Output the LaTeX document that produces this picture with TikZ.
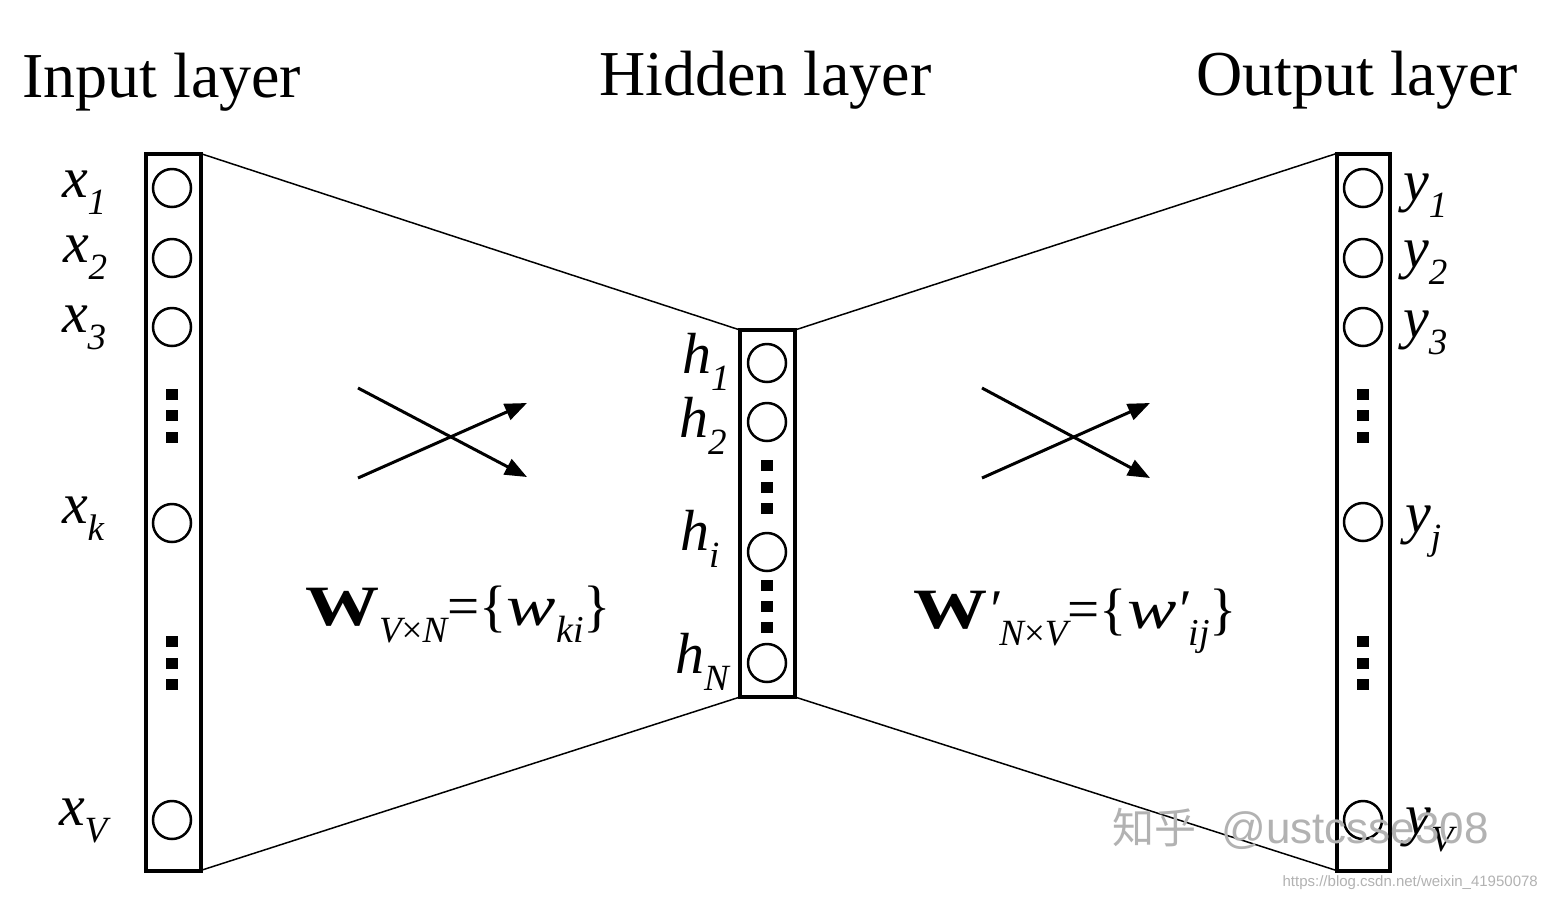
\documentclass[tikz,border=0pt]{standalone}
\usepackage{fontspec}
\setmainfont{Liberation Serif}
\newfontfamily\cjkfont{Noto Sans CJK SC}
\newfontfamily\wmfont{Liberation Sans}
\usetikzlibrary{arrows.meta}

\newcommand{\fs}[1]{\fontsize{#1}{#1}\selectfont}
% italic unit name with a lowered italic index
\newcommand{\unitlab}[2]{{\fs{58}\itshape #1\raisebox{-17pt}{\fs{37}#2}}}
\newcommand{\wide}[1]{\scalebox{1.3}[1]{#1}}
\newcommand{\prm}{{\itshape\fs{56}\char"2032}}

\begin{document}
\begin{tikzpicture}[x=1pt,y=-1pt,
  layerbox/.style={draw, rectangle, line width=4pt, inner sep=0pt, outer sep=0pt},
  unit/.style={draw, circle, line width=2.5pt, minimum size=38pt, inner sep=0pt, outer sep=0pt},
  dotsq/.style={fill, rectangle, minimum width=12pt, minimum height=11pt, inner sep=0pt, outer sep=0pt},
  link/.style={line width=1.5pt},
  cross/.style={line width=3pt, -{Triangle[length=22pt,width=17pt]}},
  lab/.style={inner sep=0pt, outer sep=0pt},
  title/.style={inner sep=0pt, font=\fs{64}},
  wmark/.style={inner sep=0pt, text=black!30}
]
\fill[white] (0,0) rectangle (1548,898);
\useasboundingbox (0,0) rectangle (1548,898);

% titles
\node[title, anchor=base west] (tin)  at (22,97)   {Input layer};
\node[title, anchor=base west] (thid) at (599,95)  {Hidden layer};
\node[title, anchor=base west] (tout) at (1196,95) {Output layer};

% layer boxes
\node[layerbox, minimum width=55pt, minimum height=717pt] (L) at (173,512) {};
\node[layerbox, minimum width=55pt, minimum height=367pt] (M) at (767.5,513.5) {};
\node[layerbox, minimum width=53.5pt, minimum height=717pt] (R) at (1363.25,512) {};

% links between the layers
\draw[link] (L.north east) -- (M.north west);
\draw[link] (L.south east) -- (M.south west);
\draw[link] (M.north east) -- (R.north west);
\draw[link] (M.south east) -- (R.south west);

% input units
\node[unit] (x1) at (172,188) {};
\node[unit] (x2) at (172,258) {};
\node[unit] (x3) at (172,327) {};
\node[unit] (xk) at (172,523) {};
\node[unit] (xV) at (172,820) {};
\foreach \y [count=\i] in {394,415,437,641,663,684}
  \node[dotsq] (ld\i) at (172,\y) {};

% hidden units
\node[unit] (h1) at (767,363) {};
\node[unit] (h2) at (767,422) {};
\node[unit] (hi) at (767,552) {};
\node[unit] (hN) at (767,663) {};
\foreach \y [count=\i] in {465,487,508,585,606,627}
  \node[dotsq] (md\i) at (767,\y) {};

% output units
\node[unit] (y1) at (1363,188) {};
\node[unit] (y2) at (1363,258) {};
\node[unit] (y3) at (1363,327) {};
\node[unit] (yj) at (1363,522) {};
\node[unit] (yV) at (1363,820) {};
\foreach \y [count=\i] in {394,415,437,641,663,684}
  \node[dotsq] (rd\i) at (1363,\y) {};

% unit labels
\node[lab, anchor=base west] (lx1) at (62,197) {\unitlab{x}{1}};
\node[lab, anchor=base west] (lx2) at (63,262) {\unitlab{x}{2}};
\node[lab, anchor=base west] (lx3) at (62,332) {\unitlab{x}{3}};
\node[lab, anchor=base west] (lxk) at (62,523) {\unitlab{x}{k}};
\node[lab, anchor=base west] (lxV) at (59,825) {\unitlab{x}{V}};

\node[lab, anchor=base west] (lh1) at (682,373) {\unitlab{h}{1}};
\node[lab, anchor=base west] (lh2) at (679,437) {\unitlab{h}{2}};
\node[lab, anchor=base west] (lhi) at (680,550) {\unitlab{h}{i}};
\node[lab, anchor=base west] (lhN) at (675,673) {\unitlab{h}{N}};

\node[lab, anchor=base west] (ly1) at (1403,200) {\unitlab{y}{1}};
\node[lab, anchor=base west] (ly2) at (1403,267) {\unitlab{y}{2}};
\node[lab, anchor=base west] (ly3) at (1403,337) {\unitlab{y}{3}};
\node[lab, anchor=base west] (lyj) at (1405,532) {\unitlab{y}{j}};
\node[lab, anchor=base west] (lyV) at (1405,834) {\unitlab{y}{V}};

% full connection symbols
\coordinate (a1s) at (358,388);  \coordinate (a1e) at (527,477);
\coordinate (a2s) at (358,478);  \coordinate (a2e) at (527,403);
\draw[cross] (a1s) -- (a1e);
\draw[cross] (a2s) -- (a2e);
\coordinate (b1s) at (982,388);  \coordinate (b1e) at (1150,478);
\coordinate (b2s) at (982,478);  \coordinate (b2e) at (1150,403);
\draw[cross] (b1s) -- (b1e);
\draw[cross] (b2s) -- (b2e);

% weight matrices
\node[lab, anchor=base west] (W1) at (305,625)
  {\fs{57}\wide{\bfseries W}\raisebox{-17pt}{\fs{37}\itshape V\upshape ×\itshape N}=\{\wide{\itshape w}\raisebox{-17pt}{\fs{38}\itshape ki}\}};
\node[lab, anchor=base west] (W2) at (913,628)
  {\fs{57}\wide{\bfseries W}\prm\raisebox{-17pt}{\fs{37}\itshape N\upshape ×\itshape V}=\{\wide{\itshape w}\prm\raisebox{-17pt}{\fs{38}\itshape ij}\}};

% watermark
\node[wmark, anchor=base west] (wm) at (1112,843) {\cjkfont\fs{42}知乎\hspace{0.6em}\wmfont\fs{44}@ustcsse308};
\node[wmark, anchor=base east] (url) at (1538,886) {\wmfont\fs{15}https://blog.csdn.net/weixin\_41950078};
\end{tikzpicture}
\end{document}
